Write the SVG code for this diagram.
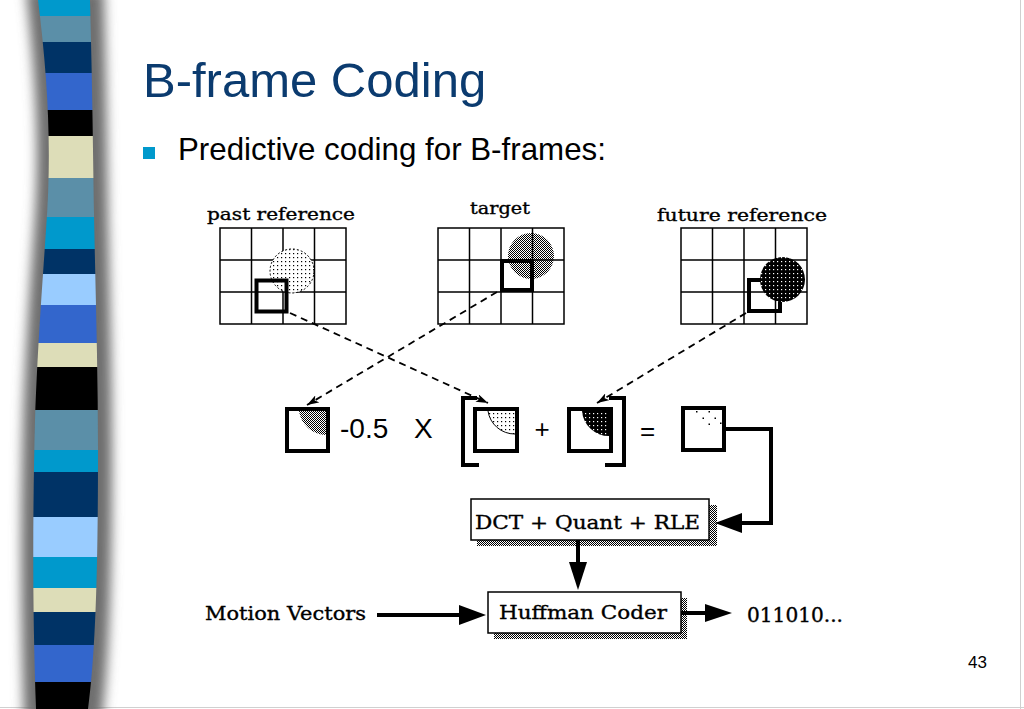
<svg xmlns="http://www.w3.org/2000/svg" width="1024" height="709" viewBox="0 0 1024 709">
<style>
.grid{fill:none;stroke:#000;stroke-width:1.5}
.thick{fill:none;stroke:#000;stroke-width:4}
.fig{font-family:"DejaVu Serif","Liberation Serif",serif;fill:#000;stroke:#000;stroke-width:0.35}
.sans{font-family:"Liberation Sans",Arial,sans-serif;fill:#000}
.dash{fill:none;stroke:#000;stroke-width:1.8;stroke-dasharray:7 5}
.solid{fill:none;stroke:#000;stroke-width:4}
.box{fill:#fff;stroke:#000;stroke-width:1.5}
</style>
<defs>
<pattern id="light" width="4" height="4" patternUnits="userSpaceOnUse"><rect width="4" height="4" fill="#fff"/><rect x="1" y="1" width="1.2" height="1.2" fill="#000"/></pattern>
<pattern id="gray" width="2" height="2" patternUnits="userSpaceOnUse"><rect width="2" height="2" fill="#fff"/><rect width="1" height="1" fill="#000"/><rect x="1" y="1" width="1" height="1" fill="#000"/></pattern>
<pattern id="dark" width="4" height="4" patternUnits="userSpaceOnUse"><rect width="4" height="4" fill="#000"/><rect x="1" y="1" width="1.2" height="1.2" fill="#fff"/></pattern>
<clipPath id="band"><path d="M38,0 C48,80 52,150 46,230 C42,290 38,340 35,420 C33,500 32,600 36,709 L88,709 C96,650 98,560 98,450 C98,350 94,250 93,150 C92,80 91,40 90,0 Z"/></clipPath>
<filter id="blur" x="-50%" y="-5%" width="200%" height="110%"><feGaussianBlur stdDeviation="6"/></filter>
<marker id="ah" viewBox="0 0 12 8" refX="12" refY="4" markerWidth="12" markerHeight="8" markerUnits="userSpaceOnUse" orient="auto"><path d="M0,0 L12,4 L0,8 L3,4 Z" fill="#000"/></marker>
</defs>
<rect width="1024" height="709" fill="#fff"/>
<line x1="1020.5" y1="0" x2="1020.5" y2="709" stroke="#d0d0d0" stroke-width="1"/>
<line x1="0" y1="707.5" x2="1024" y2="707.5" stroke="#d0d0d0" stroke-width="1"/>

<g id="stripe">
<path d="M26,-10 C36,80 40,150 34,230 C30,290 26,340 23,420 C21,500 20,600 24,720 L102,720 C110,650 112,560 112,450 C112,350 108,250 107,150 C106,80 105,40 104,-10 Z" fill="#6e6e6e" filter="url(#blur)"/>
<g clip-path="url(#band)">
<rect x="0" y="0" width="120" height="16" fill="#0099CC"/>
<rect x="0" y="16" width="120" height="26" fill="#5B8FA8"/>
<rect x="0" y="42" width="120" height="31" fill="#003366"/>
<rect x="0" y="73" width="120" height="37" fill="#3366CC"/>
<rect x="0" y="110" width="120" height="26" fill="#000"/>
<rect x="0" y="136" width="120" height="42" fill="#DDDDB8"/>
<rect x="0" y="178" width="120" height="39" fill="#5B8FA8"/>
<rect x="0" y="217" width="120" height="32" fill="#0099CC"/>
<rect x="0" y="249" width="120" height="25" fill="#003366"/>
<rect x="0" y="274" width="120" height="31" fill="#99CCFF"/>
<rect x="0" y="305" width="120" height="38" fill="#3366CC"/>
<rect x="0" y="343" width="120" height="24" fill="#DDDDB8"/>
<rect x="0" y="367" width="120" height="43" fill="#000"/>
<rect x="0" y="410" width="120" height="40" fill="#5B8FA8"/>
<rect x="0" y="450" width="120" height="22" fill="#0099CC"/>
<rect x="0" y="472" width="120" height="45" fill="#003366"/>
<rect x="0" y="517" width="120" height="40" fill="#99CCFF"/>
<rect x="0" y="557" width="120" height="31" fill="#0099CC"/>
<rect x="0" y="588" width="120" height="24" fill="#DDDDB8"/>
<rect x="0" y="612" width="120" height="33" fill="#003366"/>
<rect x="0" y="645" width="120" height="37" fill="#3366CC"/>
<rect x="0" y="682" width="120" height="27" fill="#000"/>
</g>
</g>

<g id="title">
<text x="143" y="97" font-family="Liberation Sans,Arial,sans-serif" font-size="49" fill="#0B3B6F">B-frame Coding</text>
</g>
<g id="bullet">
<rect x="143" y="147" width="12" height="12" fill="#0099CC"/>
<text x="178" y="160" font-family="Liberation Sans,Arial,sans-serif" font-size="31.3" fill="#000">Predictive coding for B-frames:</text>
</g>
<g id="page-number">
<text x="968" y="668" font-family="Liberation Sans,Arial,sans-serif" font-size="17" fill="#000">43</text>
</g>

<g id="past-reference">
<text class="fig" x="207" y="220" font-size="17" textLength="148" lengthAdjust="spacingAndGlyphs">past reference</text>
<path class="grid" d="M220,228 H346 V324 H220 Z M251.5,228 V324 M283,228 V324 M314.5,228 V324 M220,260 H346 M220,292 H346"/>
<circle cx="292" cy="271" r="22" fill="url(#light)" stroke="#000" stroke-width="1" stroke-dasharray="2 2"/>
<rect class="thick" x="256.5" y="280.5" width="30" height="31"/>
</g>

<g id="target">
<text class="fig" x="470" y="214" font-size="17" textLength="60" lengthAdjust="spacingAndGlyphs">target</text>
<circle cx="531" cy="256" r="23" fill="url(#gray)"/>
<path class="grid" d="M438,228 H564 V324 H438 Z M469.5,228 V324 M501,228 V324 M532.5,228 V324 M438,260 H564 M438,292 H564"/>
<rect class="thick" x="502" y="261" width="30" height="29"/>
</g>

<g id="future-reference">
<text class="fig" x="657" y="221" font-size="17" textLength="170" lengthAdjust="spacingAndGlyphs">future reference</text>
<path class="grid" d="M681,228 H807 V324 H681 Z M712.5,228 V324 M744,228 V324 M775.5,228 V324 M681,260 H807 M681,292 H807"/>
<rect class="thick" x="749" y="280" width="31" height="31"/>
<circle cx="782.5" cy="279.5" r="22.5" fill="url(#dark)"/>
</g>

<g id="eq-past-block">
<path d="M299,411 A28,28 0 0 0 326,435 L326,411 Z" fill="url(#gray)"/>
<rect class="thick" x="287" y="409" width="41" height="42"/>
</g>
<g id="eq-factor">
<text class="sans" x="340" y="438" font-size="28">-0.5</text>
<text class="sans" x="414" y="438" font-size="28">X</text>
</g>
<g id="eq-brackets">
<path class="thick" d="M477,398 H463 V465 H479"/>
<path class="thick" d="M609,398 H624 V465 H605"/>
</g>
<g id="eq-past2-block">
<path d="M488,411 A27,27 0 0 0 515,434 L515,411 Z" fill="url(#light)"/>
<path d="M488,411 A27,27 0 0 0 515,434" fill="none" stroke="#000" stroke-width="1"/>
<rect class="thick" x="475" y="409" width="42" height="42"/>
</g>
<g id="eq-plus"><text class="sans" x="542" y="438" font-size="26" text-anchor="middle">+</text></g>
<g id="eq-future-block">
<path d="M582,411 A27,27 0 0 0 609,436 L609,411 Z" fill="url(#dark)"/>
<rect class="thick" x="569" y="409" width="42" height="42"/>
</g>
<g id="eq-equals"><text class="sans" x="647.5" y="440" font-size="26" text-anchor="middle">=</text></g>
<g id="eq-result">
<rect class="thick" x="683" y="408" width="41" height="42"/>
<g fill="#000">
<rect x="696" y="411" width="1.5" height="1.5"/><rect x="708.5" y="411" width="1.5" height="1.5"/>
<rect x="702.5" y="417.5" width="1.5" height="1.5"/><rect x="714.5" y="417.5" width="1.5" height="1.5"/>
<rect x="708.5" y="423.5" width="1.5" height="1.5"/><rect x="720" y="422.5" width="1.5" height="1.5"/>
</g>
</g>

<g id="dct">
<rect x="477" y="505" width="240" height="41" fill="url(#gray)"/>
<rect class="box" x="471" y="499" width="238" height="41"/>
<text class="fig" x="475" y="529" font-size="19" textLength="225" lengthAdjust="spacingAndGlyphs">DCT + Quant + RLE</text>
</g>

<g id="huffman">
<rect x="494" y="598" width="193" height="41" fill="url(#gray)"/>
<rect class="box" x="488" y="592" width="193" height="41"/>
<text class="fig" x="499" y="619" font-size="19" textLength="168" lengthAdjust="spacingAndGlyphs">Huffman Coder</text>
</g>

<g id="motion-vectors">
<text class="fig" x="205" y="620" font-size="19" textLength="161" lengthAdjust="spacingAndGlyphs">Motion Vectors</text>
</g>
<g id="output">
<text class="fig" x="747" y="622" font-size="20" textLength="96" lengthAdjust="spacingAndGlyphs">011010...</text>
</g>

<g id="connectors">
<line class="dash" x1="290" y1="313" x2="488" y2="403" marker-end="url(#ah)"/>
<line class="dash" x1="497" y1="292" x2="307" y2="405" marker-end="url(#ah)"/>
<line class="dash" x1="746" y1="313" x2="597" y2="403" marker-end="url(#ah)"/>
<path class="solid" d="M726,429 H771 V523 H738"/>
<polygon points="715,523 742,513 742,533" fill="#000"/>
<line class="solid" x1="578" y1="540" x2="578" y2="565"/>
<polygon points="578,590 569,562 587,562" fill="#000"/>
<line class="solid" x1="377" y1="615" x2="462" y2="615"/>
<polygon points="486,615 459,605 459,625" fill="#000"/>
<line class="solid" x1="681" y1="613" x2="708" y2="613"/>
<polygon points="732,613 705,604 705,622" fill="#000"/>
</g>
</svg>
